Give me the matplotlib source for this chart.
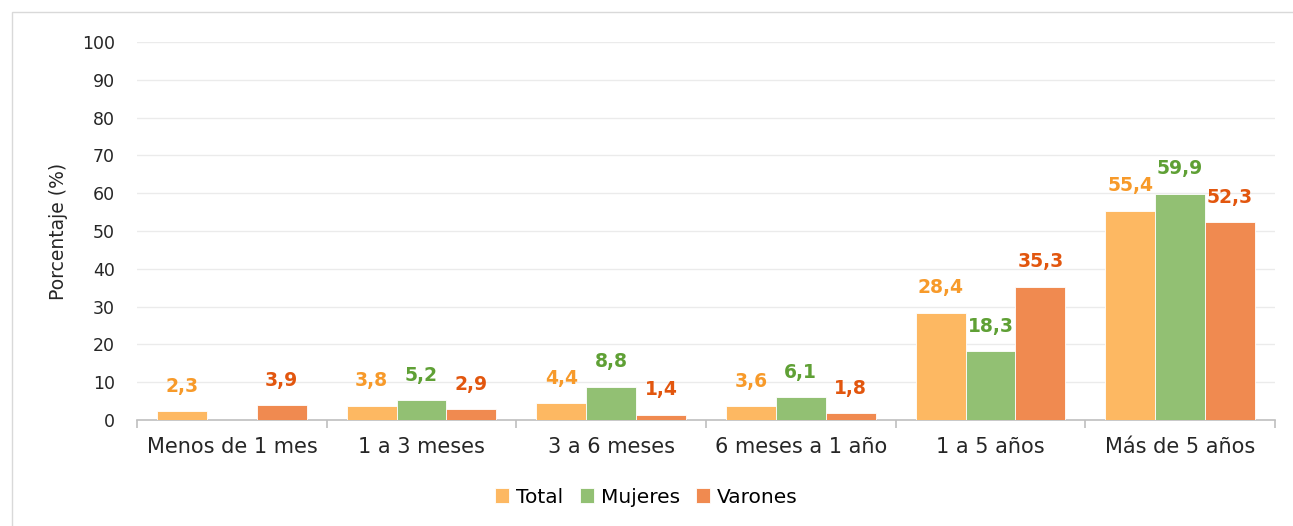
import numpy as np
import matplotlib.pyplot as plt
from matplotlib.patches import Rectangle

categories = ["Menos de 1 mes", "1 a 3 meses", "3 a 6 meses",
              "6 meses a 1 año", "1 a 5 años", "Más de 5 años"]
series_names = ["Total", "Mujeres", "Varones"]
total = [2.3, 3.8, 4.4, 3.6, 28.4, 55.4]
mujeres = [np.nan, 5.2, 8.8, 6.1, 18.3, 59.9]
varones = [3.9, 2.9, 1.4, 1.8, 35.3, 52.3]

bar_colors = ["#FDB862", "#92C073", "#F08A50"]
label_colors = ["#F79A2A", "#5FA035", "#E2560E"]

plt.rcParams['font.family'] = ['DejaVu Sans']

fig = plt.figure(figsize=(12.93, 5.26), dpi=100)
ax = fig.add_axes([0.106, 0.2015, 0.880, 0.7185])

# outer frame of the chart area
fig.patches.append(Rectangle((12 / 1293, -0.01), 1.0, (526 - 12) / 526 + 0.01,
                             transform=fig.transFigure, fill=False,
                             edgecolor="#D9D9D9", linewidth=1.0))

x = np.arange(len(categories))
w = 0.263
for i, (vals, name) in enumerate(zip([total, mujeres, varones], series_names)):
    pos = x + (i - 1) * w
    v = np.array(vals, dtype=float)
    ax.bar(pos, np.nan_to_num(v), width=w, color=bar_colors[i], label=name,
           edgecolor="white", linewidth=0.6, zorder=3)
    for px, val in zip(pos, v):
        if np.isnan(val):
            continue
        ax.annotate(f"{val:.1f}".replace(".", ","), (px, val),
                    xytext=(0, 11), textcoords="offset points",
                    ha="center", va="bottom", fontsize=13.5, fontweight="bold",
                    color=label_colors[i])

ax.set_ylim(0, 100)
ax.set_yticks(np.arange(0, 101, 10))
ax.set_xlim(-0.5, len(categories) - 0.5)
ax.yaxis.grid(True, color="#EBEBEB", linewidth=1.0, zorder=0)
ax.set_axisbelow(True)

for s in ["top", "right", "left"]:
    ax.spines[s].set_visible(False)
ax.spines["bottom"].set_color("#BFBFBF")
ax.spines["bottom"].set_linewidth(1.2)

ax.tick_params(axis="y", length=0, labelsize=12.5, colors="#262626", pad=16)
ax.set_xticks(np.arange(-0.5, len(categories), 1.0))
ax.set_xticklabels([])
ax.tick_params(axis="x", which="major", length=6, color="#BFBFBF", width=1.2)
ax.set_xticks(x, minor=True)
ax.set_xticklabels(categories, minor=True, fontsize=15, color="#262626")
ax.tick_params(axis="x", which="minor", length=0, pad=12)

ax.set_ylabel("Porcentaje (%)", fontsize=13.5, color="#262626", labelpad=10)

handles, labels = ax.get_legend_handles_labels()
fig.legend(handles, labels, loc="center", bbox_to_anchor=(0.5, 0.055),
           ncol=3, frameon=False, fontsize=14.5, handlelength=0.7,
           handleheight=0.7, handletextpad=0.35, columnspacing=0.8)

fig.savefig("out.png", dpi=100)
